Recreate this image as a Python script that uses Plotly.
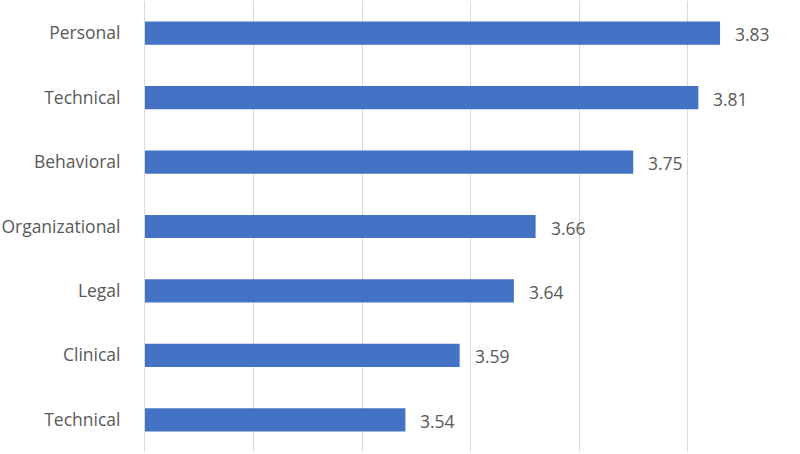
import plotly.graph_objects as go

categories = ["Personal", "Technical", "Behavioral", "Organizational", "Legal", "Clinical", "Technical"]
values = [3.83, 3.81, 3.75, 3.66, 3.64, 3.59, 3.54]

n = len(categories)
ypos = list(range(n))  # 0 at top, reversed axis

fig = go.Figure(go.Bar(
    x=values, y=ypos, orientation="h",
    marker=dict(color="#4472C4", line=dict(width=0)),
    width=0.36,
    hoverinfo="skip",
))

for v, y in zip(values, ypos):
    fig.add_annotation(x=v, y=y, text=f"{v:.2f}", showarrow=False,
                       xanchor="left", xshift=13, yshift=-1,
                       font=dict(family="Open Sans", size=17.5, color="#595959"))

fig.update_layout(
    width=800, height=454,
    margin=dict(l=145, r=4, t=1, b=2),
    plot_bgcolor="white", paper_bgcolor="white",
    showlegend=False,
    bargap=0.64,
    xaxis=dict(range=[3.3, 3.9], dtick=0.1, showgrid=True, gridcolor="#d9d9d9", gridwidth=1,
               showticklabels=False, zeroline=False, showline=False, fixedrange=True),
    yaxis=dict(tickvals=ypos, ticktext=categories, autorange=False, range=[n - 0.5, -0.5],
               showgrid=False, zeroline=False, showline=True, linecolor="#d9d9d9", linewidth=1,
               ticks="", ticklabelstandoff=20,
               tickfont=dict(family="Open Sans", size=17.5, color="#595959")),
)

fig.write_html("out.html")
